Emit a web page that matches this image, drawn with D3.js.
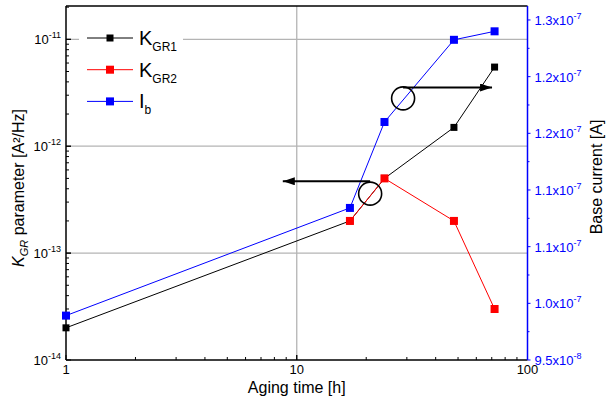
<!DOCTYPE html>
<html><head><meta charset="utf-8">
<script src="https://cdn.jsdelivr.net/npm/d3@7"></script>
<style>
body{margin:0;background:#fff;}
text{font-family:"Liberation Sans",Arial,sans-serif;}
</style></head>
<body><svg id="c" width="613" height="403"></svg>
<script>
// ---- data ----
const hours = [1, 17, 24, 48, 72];
const kgr1 = [2e-14, 2e-13, 5e-13, 1.5e-12, 5.5e-12];
const hours2 = [17, 24, 48, 72];
const kgr2 = [2e-13, 5e-13, 2e-13, 3e-14];
const ib = [9.97e-8, 1.111e-7, 1.202e-7, 1.289e-7, 1.298e-7];
const xTicks = [1, 10, 100];
const xTickLabels = ["1", "10", "100"];
const yLTicks = [1e-14, 1e-13, 1e-12, 1e-11];
const yLExp = ["-14", "-13", "-12", "-11"];
const yRTicks = [9.5e-8, 1.01e-7, 1.07e-7, 1.13e-7, 1.19e-7, 1.25e-7, 1.31e-7];
const yRMant = ["9.5", "1.0", "1.1", "1.1", "1.2", "1.2", "1.3"];
const yRExp = ["-8", "-7", "-7", "-7", "-7", "-7", "-7"];
// annotations (data space): circle centre, arrow end
const annLeft = {cx: 20.8, cy: 3.6e-13, tx: 8.7, ty: 4.7e-13};
const annRight = {cx: 28.9, cy: 1.227e-7, tx: 70.2, ty: 1.2385e-7};

// ---- layout ----
const m = {left: 66, top: 6, right: 85.5, bottom: 43};
const W = 613, H = 403;
const svg = d3.select("#c");
const x = d3.scaleLog().domain([1, 100]).range([m.left, W - m.right]);
const yL = d3.scaleLog().domain([1e-14, 2.05e-11]).range([H - m.bottom, m.top]);
const yR = d3.scaleLinear().domain([9.5e-8, 1.3248e-7]).range([H - m.bottom, m.top]);
const x0 = m.left, x1 = W - m.right, yb = H - m.bottom, yt = m.top;

// grid
const grid = svg.append("g").attr("stroke", "#b4b4b4").attr("stroke-width", 1.3);
[1e-13, 1e-12, 1e-11].forEach(v => grid.append("line").attr("x1", x0).attr("x2", x1).attr("y1", yL(v)).attr("y2", yL(v)));
grid.append("line").attr("x1", x(10)).attr("x2", x(10)).attr("y1", yt).attr("y2", yb);

// frame
svg.append("line").attr("x1", x0).attr("x2", x1).attr("y1", yt).attr("y2", yt).attr("stroke", "#000").attr("stroke-width", 1.5);

// minor/major ticks bottom (inward)
const ticksG = svg.append("g").attr("stroke", "#000").attr("stroke-width", 1);
for (let d = 1; d < 100; d *= 10) for (let k = 1; k <= 10; k++) {
  const v = d * k; const major = (k === 1 || k === 10);
  ticksG.append("line").attr("x1", x(v)).attr("x2", x(v)).attr("y1", yb).attr("y2", yb - (major ? 5 : 3));
}
// left ticks (inward)
for (let d = 1e-14; d < 2e-11; d *= 10) for (let k = 1; k <= 10; k++) {
  const v = d * k; if (v > 2.05e-11) continue; const major = (k === 1 || k === 10);
  ticksG.append("line").attr("x1", x0).attr("x2", x0 + (major ? 5 : 3)).attr("y1", yL(v)).attr("y2", yL(v));
}
// right ticks (outward, blue)
const rT = svg.append("g").attr("stroke", "#0000ff").attr("stroke-width", 1);
yRTicks.forEach((v, i) => {
  rT.append("line").attr("x1", x1).attr("x2", x1 + 3).attr("y1", yR(v)).attr("y2", yR(v));
  if (i < yRTicks.length - 1) {
    const mv = (v + yRTicks[i + 1]) / 2;
    rT.append("line").attr("x1", x1).attr("x2", x1 + 2).attr("y1", yR(mv)).attr("y2", yR(mv));
  }
});

// axes lines
svg.append("line").attr("x1", x0).attr("x2", x1).attr("y1", yb).attr("y2", yb).attr("stroke", "#000").attr("stroke-width", 1.5);
svg.append("line").attr("x1", x0).attr("x2", x0).attr("y1", yt).attr("y2", yb).attr("stroke", "#000").attr("stroke-width", 1.5);
svg.append("line").attr("x1", x1).attr("x2", x1).attr("y1", yt).attr("y2", yb).attr("stroke", "#0000ff").attr("stroke-width", 1.5);

// tick labels
xTicks.forEach((v, i) => svg.append("text").attr("x", x(v)).attr("y", yb + 14).attr("text-anchor", "middle").attr("font-size", 13).text(xTickLabels[i]));
yLTicks.forEach((v, i) => {
  const t = svg.append("text").attr("x", x0 - 5).attr("y", yL(v) + 5).attr("text-anchor", "end").attr("font-size", 13);
  t.append("tspan").text("10");
  t.append("tspan").attr("dy", -6).attr("font-size", 9).text(yLExp[i]);
});
yRTicks.forEach((v, i) => {
  const t = svg.append("text").attr("x", x1 + 7).attr("y", yR(v) + 5).attr("font-size", 13).attr("fill", "#0000ff");
  t.append("tspan").text(yRMant[i] + "x10");
  t.append("tspan").attr("dy", -6).attr("font-size", 9).text(yRExp[i]);
});

// axis titles
svg.append("text").attr("x", (x0 + x1) / 2).attr("y", 393).attr("text-anchor", "middle").attr("font-size", 16).text("Aging time [h]");
const lt = svg.append("text").attr("transform", `translate(24,188) rotate(-90)`).attr("text-anchor", "middle").attr("font-size", 16);
lt.append("tspan").attr("font-style", "italic").text("K");
lt.append("tspan").attr("font-style", "italic").attr("font-size", 11).attr("dy", 4).text("GR");
lt.append("tspan").attr("dy", -4).text(" parameter [A²/Hz]");
svg.append("text").attr("transform", `translate(602,177) rotate(-90)`).attr("text-anchor", "middle").attr("font-size", 16).text("Base current  [A]");

// series
const series = [
  {xs: hours, ys: kgr1, sc: yL, col: "#000000", s: 7},
  {xs: hours2, ys: kgr2, sc: yL, col: "#ff0000", s: 8},
  {xs: hours, ys: ib, sc: yR, col: "#0000ff", s: 8}
];
series.forEach(se => {
  const pts = se.xs.map((h, i) => [x(h), se.sc(se.ys[i])]);
  svg.append("path").attr("d", d3.line()(pts)).attr("fill", "none").attr("stroke", se.col).attr("stroke-width", 1);
});
series.forEach(se => {
  se.xs.forEach((h, i) => svg.append("rect").attr("x", x(h) - se.s / 2).attr("y", se.sc(se.ys[i]) - se.s / 2).attr("width", se.s).attr("height", se.s).attr("fill", se.col));
});

// annotations
const defs = svg.append("defs");
defs.append("marker").attr("id", "ah").attr("viewBox", "0 0 12 8").attr("refX", 12).attr("refY", 4)
  .attr("markerWidth", 12).attr("markerHeight", 8).attr("markerUnits", "userSpaceOnUse").attr("orient", "auto")
  .append("path").attr("d", "M0,0 L12,4 L0,8 Z").attr("fill", "#000");
const R = 11.5;
[{a: annLeft, sc: yL}, {a: annRight, sc: yR}].forEach(({a, sc}) => {
  const cx = x(a.cx), cy = sc(a.cy);
  svg.append("circle").attr("cx", cx).attr("cy", cy).attr("r", R).attr("fill", "none").attr("stroke", "#000").attr("stroke-width", 1.6);
  svg.append("line").attr("x1", cx).attr("y1", sc(a.ty)).attr("x2", x(a.tx)).attr("y2", sc(a.ty))
    .attr("stroke", "#000").attr("stroke-width", 1.8).attr("marker-end", "url(#ah)");
});

// legend
svg.append("rect").attr("x", 79).attr("y", 18).attr("width", 104).attr("height", 100).attr("fill", "#fff");
const leg = [
  {col: "#000000", main: "K", sub: "GR1", s: 7},
  {col: "#ff0000", main: "K", sub: "GR2", s: 8},
  {col: "#0000ff", main: "I", sub: "b", s: 8}
];
leg.forEach((l, i) => {
  const y = 38 + i * 31.7;
  svg.append("line").attr("x1", 87).attr("x2", 133).attr("y1", y).attr("y2", y).attr("stroke", l.col).attr("stroke-width", 1);
  svg.append("rect").attr("x", 110 - l.s / 2).attr("y", y - l.s / 2).attr("width", l.s).attr("height", l.s).attr("fill", l.col);
  const t = svg.append("text").attr("x", 139).attr("y", y + 7).attr("font-size", 20);
  t.append("tspan").text(l.main);
  t.append("tspan").attr("font-size", 12).attr("dy", 6).text(l.sub);
});
</script></body></html>
